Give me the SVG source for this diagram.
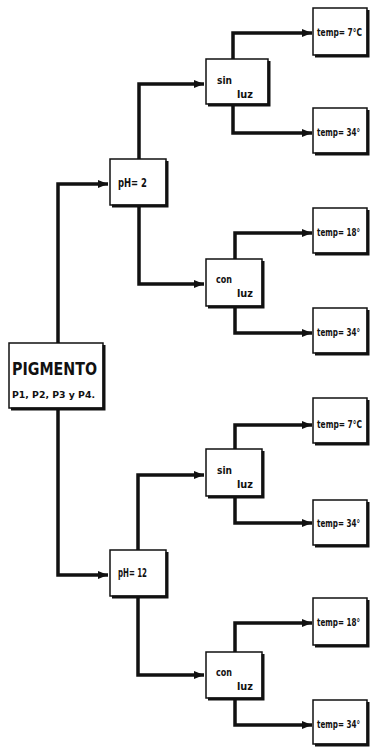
<svg xmlns="http://www.w3.org/2000/svg" width="371" height="747" viewBox="0 0 371 747">
<style>
.box{fill:#fff;stroke:#111;stroke-width:1.5}
.sh{fill:none;stroke:#111;stroke-width:3}
.ln{fill:none;stroke:#111;stroke-width:3.5;stroke-linejoin:miter}
text{font-family:"DejaVu Sans Condensed","Liberation Sans Narrow","Liberation Sans",sans-serif;fill:#111;font-weight:bold}
.t{font-size:10px}
.s{font-size:10px}
</style>
<defs>
<marker id="ar" markerUnits="userSpaceOnUse" markerWidth="10" markerHeight="10" viewBox="0 0 10 10" refX="10" refY="5" orient="auto">
<path d="M0,1 L10,5 L0,9 Z" fill="#111"/>
</marker>
</defs>
<rect width="371" height="747" fill="#fff"/>
<g id="connectors">
<path class="ln" d="M58,343 V184 H108" marker-end="url(#ar)"/>
<path class="ln" d="M58,408 V575 H108" marker-end="url(#ar)"/>
<path class="ln" d="M139,159 V84 H204" marker-end="url(#ar)"/>
<path class="ln" d="M139,205 V284 H204" marker-end="url(#ar)"/>
<path class="ln" d="M138,550 V475 H204" marker-end="url(#ar)"/>
<path class="ln" d="M138,596 V675 H204" marker-end="url(#ar)"/>
<path class="ln" d="M233,59 V33 H312" marker-end="url(#ar)"/>
<path class="ln" d="M233,104 V133 H312" marker-end="url(#ar)"/>
<path class="ln" d="M235,259 V233 H312" marker-end="url(#ar)"/>
<path class="ln" d="M235,306 V333 H312" marker-end="url(#ar)"/>
<path class="ln" d="M235,449 V425 H312" marker-end="url(#ar)"/>
<path class="ln" d="M235,496 V523 H312" marker-end="url(#ar)"/>
<path class="ln" d="M235,652 V623 H312" marker-end="url(#ar)"/>
<path class="ln" d="M235,698 V725 H312" marker-end="url(#ar)"/>
</g>
<g id="pigmento">
<rect class="box" x="9" y="343" width="94" height="65"/>
<path class="sh" d="M104,345 V409 H11"/>
<text x="12" y="375" font-size="18" textLength="85" lengthAdjust="spacingAndGlyphs">PIGMENTO</text>
<text x="12" y="398" font-size="8" textLength="83" lengthAdjust="spacingAndGlyphs">P1, P2, P3 y P4.</text>
</g>
<g id="ph2">
<rect class="box" x="110" y="159" width="56" height="46"/>
<path class="sh" d="M167,161 V206 H112"/>
<text x="118" y="187" font-size="13" textLength="29" lengthAdjust="spacingAndGlyphs">pH= 2</text>
</g>
<g id="ph12">
<rect class="box" x="110" y="550" width="56" height="46"/>
<path class="sh" d="M167,552 V597 H112"/>
<text x="118" y="577" font-size="13" textLength="29" lengthAdjust="spacingAndGlyphs">pH= 12</text>
</g>
<g id="sinluz1">
<rect class="box" x="206" y="59" width="62" height="45"/>
<path class="sh" d="M269,61 V105 H208"/>
<text class="s" x="217" y="84" textLength="15" lengthAdjust="spacingAndGlyphs">sin</text>
<text class="s" x="237" y="98" textLength="16" lengthAdjust="spacingAndGlyphs">luz</text>
</g>
<g id="conluz1">
<rect class="box" x="206" y="259" width="56" height="47"/>
<path class="sh" d="M263,261 V307 H208"/>
<text class="s" x="216" y="283" textLength="16" lengthAdjust="spacingAndGlyphs">con</text>
<text class="s" x="237" y="297" textLength="16" lengthAdjust="spacingAndGlyphs">luz</text>
</g>
<g id="sinluz2">
<rect class="box" x="206" y="449" width="56" height="47"/>
<path class="sh" d="M263,451 V497 H208"/>
<text class="s" x="217" y="474" textLength="15" lengthAdjust="spacingAndGlyphs">sin</text>
<text class="s" x="237" y="488" textLength="16" lengthAdjust="spacingAndGlyphs">luz</text>
</g>
<g id="conluz2">
<rect class="box" x="206" y="652" width="56" height="46"/>
<path class="sh" d="M263,654 V699 H208"/>
<text class="s" x="216" y="676" textLength="16" lengthAdjust="spacingAndGlyphs">con</text>
<text class="s" x="237" y="690" textLength="16" lengthAdjust="spacingAndGlyphs">luz</text>
</g>
<g id="temp7a">
<rect class="box" x="313" y="8" width="54" height="47"/>
<path class="sh" d="M368,10 V56 H315"/>
<text class="t" x="317" y="36" textLength="45" lengthAdjust="spacingAndGlyphs">temp= 7°C</text>
</g>
<g id="temp34a">
<rect class="box" x="313" y="108" width="54" height="45"/>
<path class="sh" d="M368,110 V154 H315"/>
<text class="t" x="317" y="136" textLength="43" lengthAdjust="spacingAndGlyphs">temp= 34°</text>
</g>
<g id="temp18a">
<rect class="box" x="313" y="208" width="54" height="45"/>
<path class="sh" d="M368,210 V254 H315"/>
<text class="t" x="317" y="236" textLength="43" lengthAdjust="spacingAndGlyphs">temp= 18°</text>
</g>
<g id="temp34b">
<rect class="box" x="313" y="308" width="54" height="45"/>
<path class="sh" d="M368,310 V354 H315"/>
<text class="t" x="317" y="336" textLength="43" lengthAdjust="spacingAndGlyphs">temp= 34°</text>
</g>
<g id="temp7b">
<rect class="box" x="313" y="398" width="54" height="45"/>
<path class="sh" d="M368,400 V444 H315"/>
<text class="t" x="317" y="428" textLength="45" lengthAdjust="spacingAndGlyphs">temp= 7°C</text>
</g>
<g id="temp34c">
<rect class="box" x="313" y="500" width="54" height="45"/>
<path class="sh" d="M368,502 V546 H315"/>
<text class="t" x="317" y="527" textLength="43" lengthAdjust="spacingAndGlyphs">temp= 34°</text>
</g>
<g id="temp18b">
<rect class="box" x="313" y="598" width="54" height="47"/>
<path class="sh" d="M368,600 V646 H315"/>
<text class="t" x="317" y="626" textLength="43" lengthAdjust="spacingAndGlyphs">temp= 18°</text>
</g>
<g id="temp34d">
<rect class="box" x="313" y="700" width="54" height="44"/>
<path class="sh" d="M368,702 V745 H315"/>
<text class="t" x="317" y="728" textLength="43" lengthAdjust="spacingAndGlyphs">temp= 34°</text>
</g>
</svg>
